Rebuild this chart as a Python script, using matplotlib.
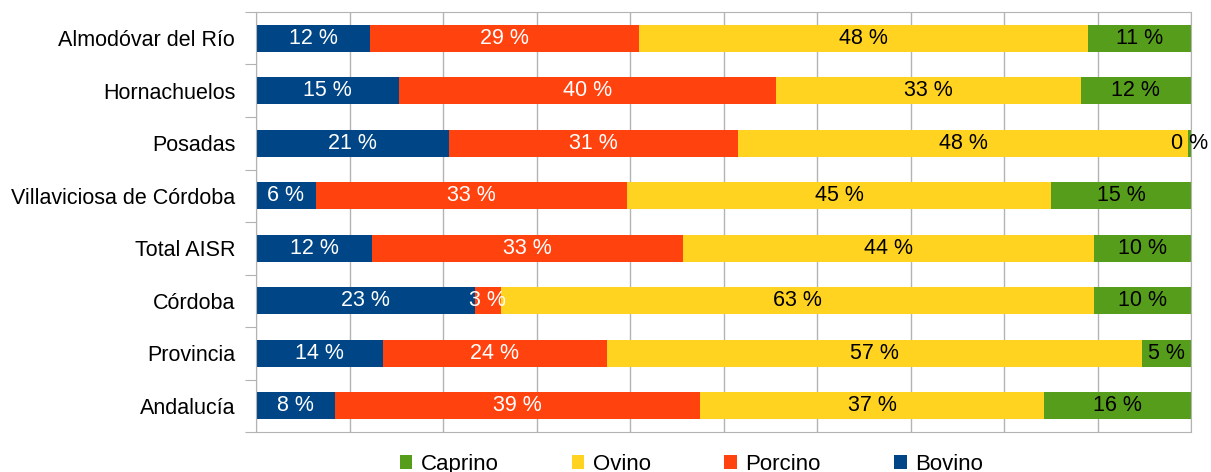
import matplotlib
matplotlib.use('Agg')
import matplotlib.pyplot as plt
import numpy as np

matplotlib.rcParams['font.family'] = ['Liberation Sans', 'DejaVu Sans']
matplotlib.rcParams['font.size'] = 15

# Data (percent share of livestock by type)
categories = ['Almodóvar del Río', 'Hornachuelos', 'Posadas', 'Villaviciosa de Córdoba',
              'Total AISR', 'Córdoba', 'Provincia', 'Andalucía']
bovino  = [12.2, 15.3, 20.6,  6.4, 12.4, 23.4, 13.6,  8.4]
porcino = [28.8, 40.3, 31.0, 33.3, 33.3,  2.8, 23.9, 39.1]
ovino   = [48.0, 32.6, 48.1, 45.3, 43.9, 63.4, 57.3, 36.8]
caprino = [11.0, 11.8,  0.3, 15.0, 10.4, 10.4,  5.2, 15.7]

series = [('Bovino', bovino, '#004586', 'white'),
          ('Porcino', porcino, '#ff420e', 'white'),
          ('Ovino', ovino, '#ffd320', 'black'),
          ('Caprino', caprino, '#579d1c', 'black')]

fig, ax = plt.subplots(figsize=(12.11, 4.72), dpi=100)
fig.subplots_adjust(left=0.2114, right=0.9835, top=0.9746, bottom=0.0847)

y = np.arange(len(categories))
left = np.zeros(len(categories))
handles = {}
for name, vals, col, tcol in series:
    vals = np.array(vals)
    bars = ax.barh(y, vals / 100.0, left=left, height=0.52, color=col, label=name, zorder=2)
    handles[name] = bars
    for yi, l, v in zip(y, left, vals):
        ax.text((l + v / 200.0), yi, '%d %%' % round(v), ha='center', va='center',
                color=tcol, fontsize=15.5, zorder=3)
    left = left + vals / 100.0

ax.set_xlim(0, 1)
ax.set_ylim(len(categories) - 0.5, -0.5)
ax.set_xticks(np.arange(0, 1.01, 0.1))
ax.set_xticklabels([])
ax.tick_params(axis='x', length=0)
ax.grid(axis='x', color='#b3b3b3', linewidth=1, zorder=0)

# boundary ticks on the left, labels in between
ax.set_yticks(np.arange(-0.5, len(categories), 1.0))
ax.set_yticklabels([])
ax.tick_params(axis='y', which='major', length=8, color='#b3b3b3')
ax.set_yticks(y, minor=True)
ax.set_yticklabels(categories, minor=True)
ax.tick_params(axis='y', which='minor', length=0, pad=15, labelsize=15.5)

for s in ax.spines.values():
    s.set_color('#b3b3b3')

order = ['Caprino', 'Ovino', 'Porcino', 'Bovino']
fig.legend([handles[n] for n in order], order, loc='center', ncol=4,
           bbox_to_anchor=(0.571, 0.016), frameon=False, fontsize=16,
           handlelength=0.55, handleheight=0.55, handletextpad=0.4, columnspacing=3.3)

fig.savefig('out.png', dpi=100)
